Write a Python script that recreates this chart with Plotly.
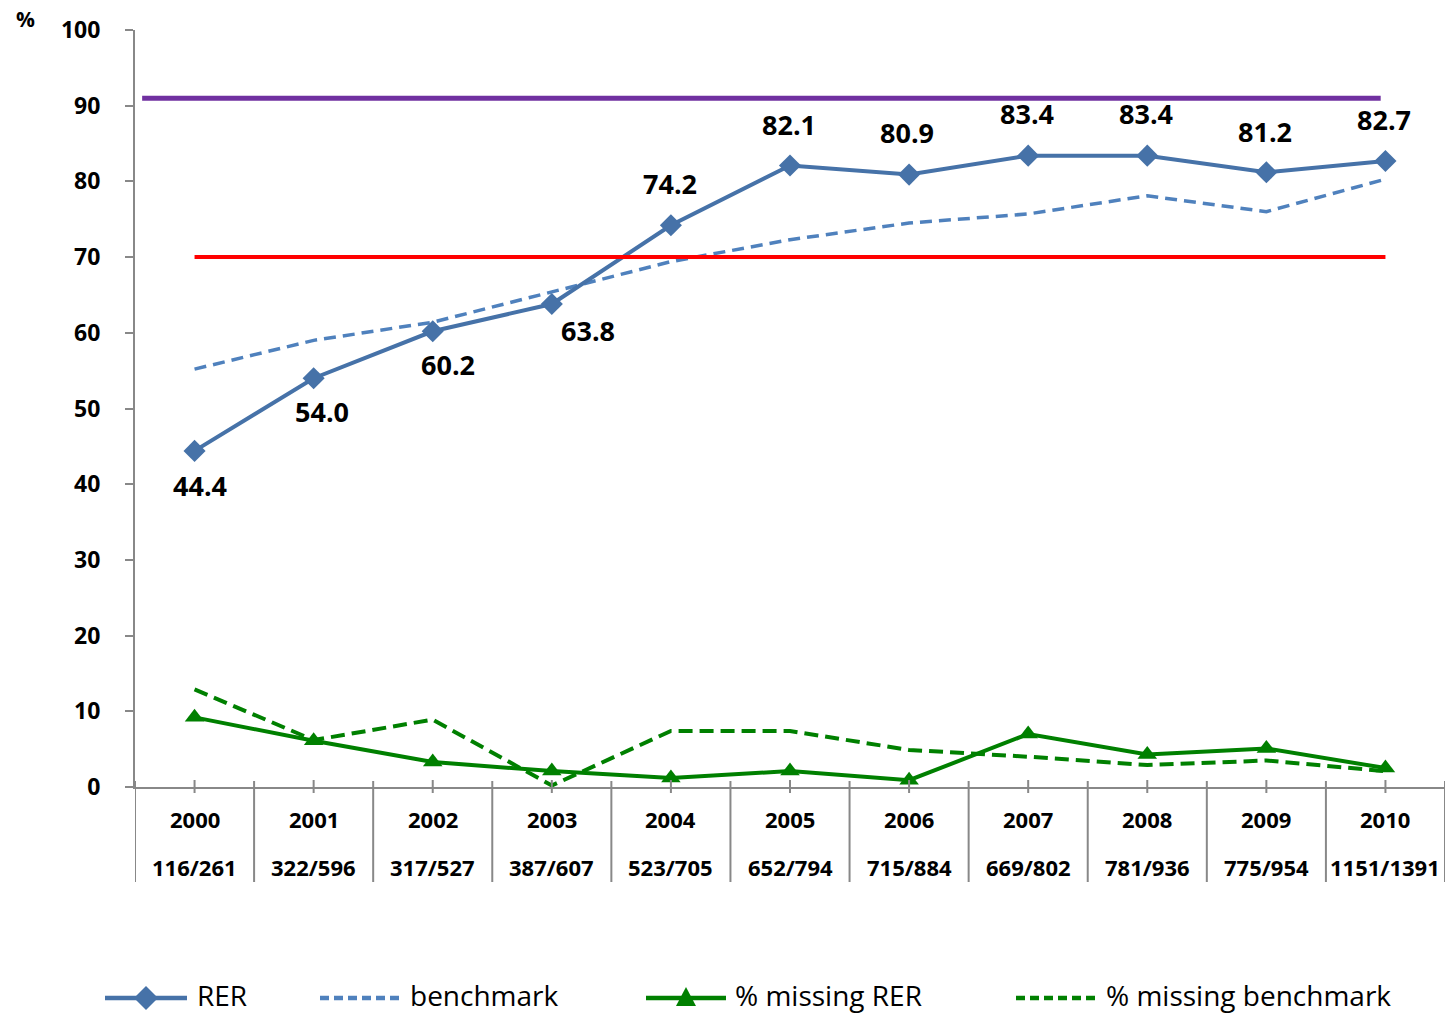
import plotly.graph_objects as go

# ---- data -------------------------------------------------------------
years = ["2000", "2001", "2002", "2003", "2004", "2005",
         "2006", "2007", "2008", "2009", "2010"]
counts = ["116/261", "322/596", "317/527", "387/607", "523/705", "652/794",
          "715/884", "669/802", "781/936", "775/954", "1151/1391"]
rer = [44.4, 54.0, 60.2, 63.8, 74.2, 82.1, 80.9, 83.4, 83.4, 81.2, 82.7]
benchmark = [55.2, 59.0, 61.4, 65.4, 69.4, 72.3, 74.5, 75.7, 78.1, 76.0, 80.3]
missing_rer = [9.2, 6.1, 3.3, 2.1, 1.2, 2.1, 0.9, 7.0, 4.3, 5.1, 2.5]
missing_benchmark = [12.9, 6.2, 8.9, 0.2, 7.4, 7.4, 4.9, 4.0, 2.9, 3.5, 2.1]
target_high = 91
target_low = 70

# ---- page geometry -----------------------------------------------------
W, H = 1449, 1017
L, R, T, B = 135, 1445, 30, 787   # plot area edges in pixels


def px(x):
    """pixel column -> paper x (relative to the plot area)"""
    return (x - L) / (R - L)


def py(y):
    """pixel row -> paper y (relative to the plot area)"""
    return (B - y) / (B - T)


FONT = "Open Sans"
BLUE = "#4672A8"
LIGHT_BLUE = "#4F81BD"
GREEN = "#008000"
AXIS_GREY = "#888888"

xs = list(range(len(years)))

fig = go.Figure()

fig.add_trace(go.Scatter(
    x=xs, y=benchmark, mode="lines", name="benchmark",
    line=dict(color=LIGHT_BLUE, width=3.5, dash="12px,7px"),
))
fig.add_trace(go.Scatter(
    x=xs, y=rer, mode="lines+markers", name="RER",
    line=dict(color=BLUE, width=4),
    marker=dict(symbol="diamond", size=17, color=BLUE),
))
fig.add_trace(go.Scatter(
    x=xs, y=missing_benchmark, mode="lines", name="% missing benchmark",
    line=dict(color=GREEN, width=4, dash="14px,7px"),
))
fig.add_trace(go.Scatter(
    x=xs, y=missing_rer, mode="lines+markers", name="% missing RER",
    line=dict(color=GREEN, width=4),
    marker=dict(symbol="triangle-up", size=17, color=GREEN),
))

shapes = []
# reference lines
shapes.append(dict(type="line", xref="x", yref="y", x0=-0.44, x1=9.96,
                   y0=target_high, y1=target_high,
                   line=dict(color="#7030A0", width=5)))
shapes.append(dict(type="line", xref="x", yref="y", x0=xs[0], x1=xs[-1],
                   y0=target_low, y1=target_low,
                   line=dict(color="#FF0000", width=4)))

# category separators below the axis and small centre ticks
for i in range(len(years) + 1):
    shapes.append(dict(type="line", xref="x", yref="paper",
                       x0=i - 0.5, x1=i - 0.5, y0=py(781), y1=py(882),
                       line=dict(color=AXIS_GREY, width=2)))
for i in xs:
    shapes.append(dict(type="line", xref="x", yref="paper",
                       x0=i, x1=i, y0=py(780), y1=py(793),
                       line=dict(color=AXIS_GREY, width=2)))

annotations = []
# value labels on the RER series
label_dx = [5, 8, 15, 36, -1, -1, -2, -1, -1, -1, -1]
label_dy = [-35, -33, -33, -26, 42, 41, 42, 42, 42, 41, 41]
for i, v in enumerate(rer):
    annotations.append(dict(
        x=i, y=v, xref="x", yref="y", text=f"{v:.1f}", showarrow=False,
        xshift=label_dx[i], yshift=label_dy[i],
        xanchor="center", yanchor="middle",
        font=dict(family=FONT, size=27, color="black", weight="bold"),
    ))

# two-row category labels
for i, (yr, c) in enumerate(zip(years, counts)):
    annotations.append(dict(
        x=i, y=py(819), xref="x", yref="paper", text=yr, showarrow=False,
        xanchor="center", yanchor="middle",
        font=dict(family=FONT, size=22, color="black", weight="bold"),
    ))
    annotations.append(dict(
        x=i, y=py(867), xref="x", yref="paper", text=c, showarrow=False,
        xanchor="center", yanchor="middle",
        font=dict(family=FONT, size=22, color="black", weight="bold"),
    ))

# unit label
annotations.append(dict(
    x=px(25), y=py(19), xref="paper", yref="paper", text="%",
    showarrow=False, xanchor="center", yanchor="middle",
    font=dict(family=FONT, size=21, color="black", weight="bold"),
))

# ---- legend (drawn by hand so the line samples are long) ---------------
LEG_Y = 998
LEG_TEXT_Y = 995
legend_items = [
    dict(name="RER", x0=105, x1=187, tx=195, color=BLUE, dash="solid",
         width=4.5, marker="diamond"),
    dict(name="benchmark", x0=320, x1=400, tx=408, color=LIGHT_BLUE,
         dash="9px,5px", width=4.5, marker=None),
    dict(name="% missing RER", x0=646, x1=726, tx=733, color=GREEN,
         dash="solid", width=4.5, marker="triangle"),
    dict(name="% missing benchmark", x0=1016, x1=1098, tx=1104, color=GREEN,
         dash="9px,5px", width=4.5, marker=None),
]
for it in legend_items:
    shapes.append(dict(type="line", xref="paper", yref="paper",
                       x0=px(it["x0"]), x1=px(it["x1"]),
                       y0=py(LEG_Y), y1=py(LEG_Y),
                       line=dict(color=it["color"], width=it["width"],
                                 dash=it["dash"])))
    cx = (it["x0"] + it["x1"]) / 2
    if it["marker"] == "diamond":
        pts = [(cx, LEG_Y - 12), (cx + 12, LEG_Y), (cx, LEG_Y + 12),
               (cx - 12, LEG_Y)]
    elif it["marker"] == "triangle":
        pts = [(cx, LEG_Y - 11), (cx + 10, LEG_Y + 8), (cx - 10, LEG_Y + 8)]
    else:
        pts = None
    if pts:
        path = "M " + " L ".join(f"{px(a):.5f},{py(b):.5f}" for a, b in pts) + " Z"
        shapes.append(dict(type="path", xref="paper", yref="paper", path=path,
                           fillcolor=it["color"], line=dict(width=0)))
    annotations.append(dict(
        x=px(it["tx"]), y=py(LEG_TEXT_Y), xref="paper", yref="paper",
        xanchor="left", yanchor="middle", text=it["name"], showarrow=False,
        font=dict(family=FONT, size=28, color="black"),
    ))

fig.update_layout(
    width=W, height=H,
    margin=dict(l=L, r=W - R, t=T, b=H - B, pad=0, autoexpand=False),
    paper_bgcolor="white", plot_bgcolor="white",
    showlegend=False,
    shapes=shapes,
    annotations=annotations,
    xaxis=dict(
        range=[-0.5, 10.5],
        showgrid=False, zeroline=False, showticklabels=False, ticks="",
        showline=True, linecolor=AXIS_GREY, linewidth=2,
    ),
    yaxis=dict(
        range=[0, 100], dtick=10,
        showgrid=False, zeroline=False,
        showline=True, linecolor=AXIS_GREY, linewidth=2,
        ticks="outside", ticklen=8, tickcolor=AXIS_GREY, tickwidth=2,
        ticklabelstandoff=20,
        tickfont=dict(family=FONT, size=23, color="black", weight="bold"),
    ),
)

fig.write_html("out.html")
